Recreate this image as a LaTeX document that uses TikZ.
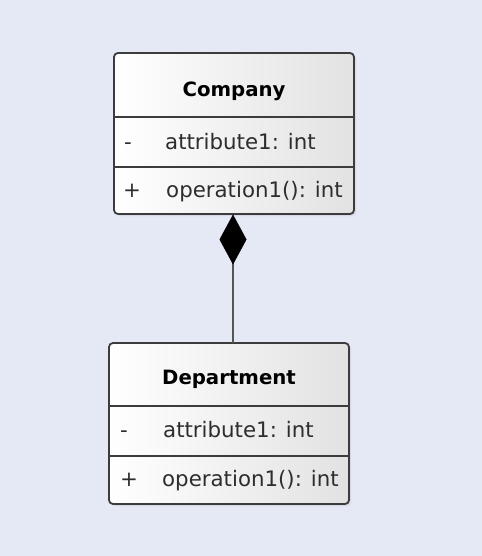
\documentclass[tikz,border=0pt]{standalone}
\usepackage{fontspec}
\setmainfont{DejaVu Sans}
\usetikzlibrary{arrows.meta,shadows}
\definecolor{bg}{RGB}{228,233,245}
\definecolor{edge}{RGB}{60,60,60}
\definecolor{txt}{RGB}{45,45,45}
\definecolor{linkc}{RGB}{85,85,85}
\definecolor{boxright}{RGB}{226,226,226}
\tikzset{
  classbox/.style={draw=edge, line width=1.8bp, rounded corners=4bp, left color=white, right color=boxright,
    minimum width=240bp, minimum height=161bp, inner sep=0pt,
    drop shadow={shadow xshift=2bp, shadow yshift=-2bp, opacity=0.15}},
  sep/.style={draw=edge, line width=1.8bp},
  title/.style={font=\fontsize{19.8}{22}\selectfont\bfseries, text=black, anchor=base, inner sep=0pt},
  member/.style={font=\fontsize{21.4}{24}\selectfont, text=txt, anchor=base west, inner sep=0pt},
  vis/.style={font=\fontsize{21.4}{24}\selectfont, text=txt, anchor=base west, inner sep=0pt},
  comp/.style={draw=linkc, line width=2.4bp, -{Diamond[length=50bp,width=27bp,color=black,fill=black,line width=0.5bp]}}
}
\begin{document}
\begin{tikzpicture}[x=1bp,y=-1bp]
\fill[bg] (0,0) rectangle (482,556);
\useasboundingbox (0,0) rectangle (482,556);
% Company
\node[classbox] (company) at (234,133.5) {};
\draw[sep] (114,117) -- (354,117);
\draw[sep] (114,167) -- (354,167);
\node[title] (ctitle) at (234,97) {Company};
\node[vis] (cv1) at (124,150) {-};
\node[member] (ca1) at (165,150) {attribute1: int};
\node[vis] (cv2) at (123,198) {+};
\node[member] (co1) at (166,198) {operation1(): int};
% Department
\node[classbox] (dept) at (229,423.5) {};
\draw[sep] (109,406) -- (349,406);
\draw[sep] (109,456) -- (349,456);
\node[title] (dtitle) at (229,384) {Department};
\node[vis] (dv1) at (120,437) {-};
\node[member] (da1) at (163,437) {attribute1: int};
\node[vis] (dv2) at (120,486) {+};
\node[member] (do1) at (162,486) {operation1(): int};
% composition
\coordinate (dtop) at (233,343);
\coordinate (cbot) at (233,214.5);
\draw[comp] (dtop) -- (cbot);
\end{tikzpicture}
\end{document}
